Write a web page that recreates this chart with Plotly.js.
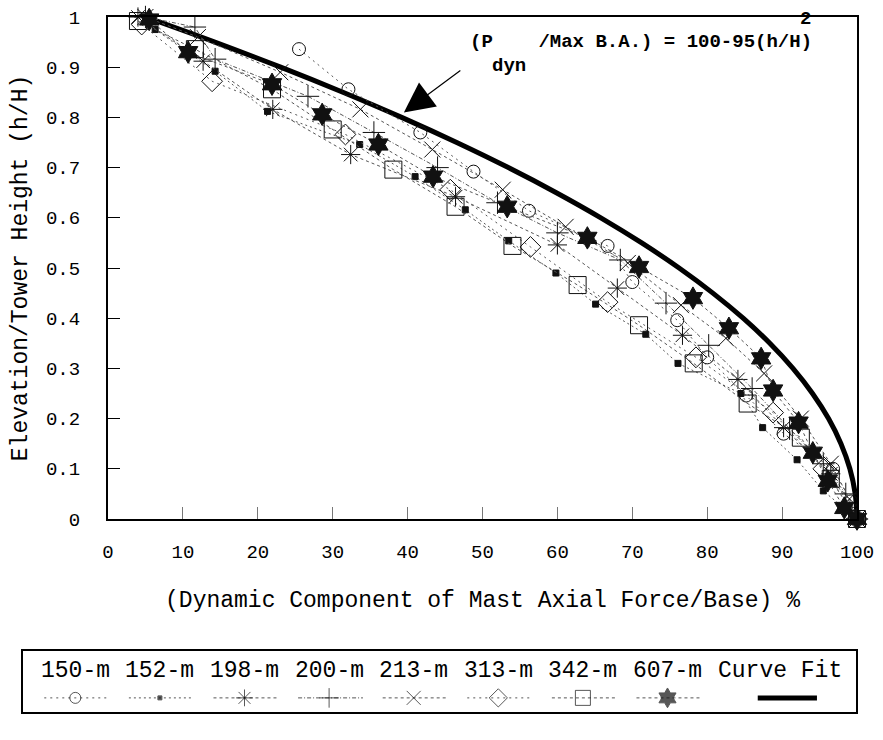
<!DOCTYPE html>
<html><head><meta charset="utf-8">
<script src="https://cdn.plot.ly/plotly-3.0.1.min.js"></script>
<style>html,body{margin:0;padding:0;background:#fff}#chart{width:883px;height:740px}</style>
</head><body><div id="chart"></div>
<script>
// ---- data ----
const seriesNames = ['150-m','152-m','198-m','200-m','213-m','313-m','342-m','607-m'];
const curveName = 'Curve Fit';

const s150_x = [25.5,32.1,41.7,48.8,56.2,66.7,70,76,80,85.2,90.2,96.8,99.2,100];
const s150_y = [0.936,0.856,0.77,0.692,0.614,0.544,0.472,0.396,0.322,0.246,0.17,0.10,0.035,0];

const s152_x = [5,6.3,14.3,21.3,33.6,41,47.7,53.5,59.8,65.1,71.8,76.1,84.5,87.4,92,95.5,100];
const s152_y = [1,0.975,0.892,0.812,0.746,0.682,0.616,0.554,0.49,0.428,0.368,0.31,0.25,0.182,0.118,0.056,0];

const s198_x = [4,12.7,22,32.4,46.4,60,68,76.7,84.1,90.2,96.5,100];
const s198_y = [1,0.912,0.816,0.726,0.642,0.546,0.46,0.366,0.278,0.182,0.09,0];

const s200_x = [5,11.6,14.3,26.7,35.5,44,52,60,68.4,74.5,80.2,86,91,95.5,98.5,100];
const s200_y = [1,0.98,0.916,0.842,0.77,0.70,0.63,0.57,0.516,0.43,0.346,0.26,0.18,0.11,0.05,0];

const s213_x = [5,12,23,33.7,43.3,52.7,61.1,69.4,76.5,82.5,87.6,92.5,96.5,99,100];
const s213_y = [1,0.96,0.89,0.816,0.736,0.656,0.582,0.51,0.426,0.36,0.29,0.2,0.11,0.04,0];

const s313_x = [4.5,13.9,31.7,45.7,56.4,66.7,78.5,88.8,95.5,100];
const s313_y = [0.985,0.872,0.766,0.656,0.542,0.432,0.322,0.212,0.1,0];

const s342_x = [4,11.6,21.9,30,38.1,46.4,54,62.7,70.9,78.2,85.4,92.5,96.5,100];
const s342_y = [0.992,0.936,0.856,0.776,0.696,0.622,0.544,0.466,0.386,0.31,0.23,0.162,0.08,0];

const s607_x = [5.5,10.7,21.9,28.6,36.1,43.4,53.3,64,70.9,78.1,82.9,87.2,88.8,92.2,94.1,96.1,98.3,100];
const s607_y = [0.995,0.93,0.866,0.806,0.746,0.682,0.622,0.56,0.502,0.44,0.38,0.32,0.256,0.192,0.132,0.076,0.022,0];

const curve_h = [0,0.05,0.1,0.15,0.2,0.25,0.3,0.35,0.4,0.45,0.5,0.55,0.6,0.65,0.7,0.75,0.8,0.85,0.9,0.95,1];
const curve_x = [100,99.76,99.05,97.86,96.2,94.06,91.45,88.36,84.8,80.76,76.25,71.26,65.8,59.86,53.45,46.56,39.2,31.36,23.05,14.26,5];

const xTicks = [0,10,20,30,40,50,60,70,80,90,100];
const yTicks = [0,0.1,0.2,0.3,0.4,0.5,0.6,0.7,0.8,0.9,1];

// ---- styles ----
const FONT = 'Liberation Mono, Courier New, monospace';
const seriesX = [s150_x,s152_x,s198_x,s200_x,s213_x,s313_x,s342_x,s607_x];
const seriesY = [s150_y,s152_y,s198_y,s200_y,s213_y,s313_y,s342_y,s607_y];
const symbols = ['circle-open','square','asterisk-open','cross-thin-open','x-thin-open','diamond-open','square-open','hexagram'];
const sizes   = [13,6,16,16,16,16,17,17];
const dashes  = ['2px,4px','2px,3px','3px,3px','4px,2px,1px,2px','3px,3px','2px,4px','3px,3px','3px,3px'];

const traces = [];
traces.push({x: curve_x, y: curve_h, mode:'lines', name: curveName, line:{color:'#000', width:5, shape:'spline'}, showlegend:false, hoverinfo:'skip'});
seriesNames.forEach((n,i)=>{
  traces.push({x: seriesX[i], y: seriesY[i], mode:'lines+markers', name:n, showlegend:false,
    line:{color:'#555', width:1, dash:dashes[i]},
    marker:{symbol:symbols[i], size:sizes[i], color:'#111', line:{color:'#111', width:1}}, cliponaxis:false});
});

// ---- custom legend (text above sample) on helper axes ----
const legendLabels = seriesNames.concat([curveName]);
const centers = []; let pos = 0;
legendLabels.forEach(l=>{ centers.push(pos + l.length/2); pos += l.length + 1; });
const annotations = [];
legendLabels.forEach((l,i)=>{
  annotations.push({x:centers[i], y:0.66, xref:'x2', yref:'y2', text:l, showarrow:false,
    font:{family:FONT, size:23, color:'#000'}, xanchor:'center', yanchor:'middle'});
});
seriesNames.forEach((n,i)=>{
  const c = centers[i];
  traces.push({x:[c-2.2,c,c+2.4], y:[0.24,0.24,0.24], xaxis:'x2', yaxis:'y2', mode:'lines+markers', showlegend:false, hoverinfo:'skip',
    line:{color:'#555', width:1, dash:dashes[i]},
    marker:{symbol:symbols[i], size:[0,sizes[i]-2,0], color:'#111', line:{color:'#111', width:1}}, cliponaxis:false});
});
{
  const c = centers[centers.length-1];
  traces.push({x:[c-1.6,c+2.6], y:[0.24,0.24], xaxis:'x2', yaxis:'y2', mode:'lines', showlegend:false, hoverinfo:'skip',
    line:{color:'#000', width:5}, cliponaxis:false});
}

// formula + arrow (paper coords relative to the plotting area)
const ML = 22, MT = 17, PW = 835, PH = 696;
const px = v => (v - ML) / PW;
const py = v => 1 - (v - MT) / PH;
annotations.push({x:px(468), y:py(42), xref:'paper', yref:'paper', xanchor:'left', yanchor:'middle', showarrow:false,
  text:'(P\u00A0\u00A0\u00A0\u00A0/Max B.A.) = 100-95(h/H)', font:{family:FONT, size:19, color:'#000', weight:'bold'}});
annotations.push({x:px(490), y:py(66), xref:'paper', yref:'paper', xanchor:'left', yanchor:'middle', showarrow:false,
  text:'dyn', font:{family:FONT, size:19, color:'#000', weight:'bold'}});
annotations.push({x:px(805), y:py(19), xref:'paper', yref:'paper', xanchor:'center', yanchor:'middle', showarrow:false,
  text:'2', font:{family:FONT, size:19, color:'#000', weight:'bold'}});
annotations.push({x:39.5, y:0.81, xref:'x', yref:'y', text:'', showarrow:true, ax:58, ay:-43,
  arrowhead:2, arrowsize:5, arrowwidth:1.2, arrowcolor:'#000'});

const layout = {
  width:883, height:740,
  margin:{l:ML, r:26, t:MT, b:27},
  paper_bgcolor:'#fff', plot_bgcolor:'#fff',
  font:{family:FONT, color:'#000'},
  showlegend:false,
  xaxis:{domain:[(108-22)/835, 1], range:[0,100], tickvals:xTicks, ticktext:xTicks.map(String),
    ticks:'inside', ticklen:12, tickcolor:'#777', tickwidth:1,
    showline:true, linecolor:'#000', linewidth:2, mirror:true, showgrid:false, zeroline:false,
    tickfont:{family:FONT, size:19, color:'#000'}, ticklabelstandoff:14, automargin:false,
    title:{text:'(Dynamic Component of Mast Axial Force/Base) %', font:{family:FONT, size:23, color:'#000'}, standoff:28}},
  yaxis:{domain:[(713-519)/696, 1], range:[0,1], tickvals:yTicks, ticktext:yTicks.map(String),
    ticks:'inside', ticklen:12, tickcolor:'#000', tickwidth:1,
    showline:true, linecolor:'#000', linewidth:2, mirror:true, showgrid:false, zeroline:false,
    tickfont:{family:FONT, size:19, color:'#000'}, ticklabelstandoff:22, automargin:false,
    title:{text:'Elevation/Tower Height (h/H)', font:{family:FONT, size:23, color:'#000'}, standoff:12}},
  xaxis2:{domain:[0,1], range:[-1.28,57.94], visible:false, anchor:'y2'},
  yaxis2:{domain:[0,63/696], range:[0,1], visible:false, anchor:'x2'},
  shapes:[{type:'rect', xref:'x2 domain', yref:'y2 domain', x0:0, x1:1, y0:0, y1:1, line:{color:'#000', width:2}}],
  annotations: annotations
};

Plotly.newPlot('chart', traces, layout, {displayModeBar:false, staticPlot:true});
</script>
</body></html>
